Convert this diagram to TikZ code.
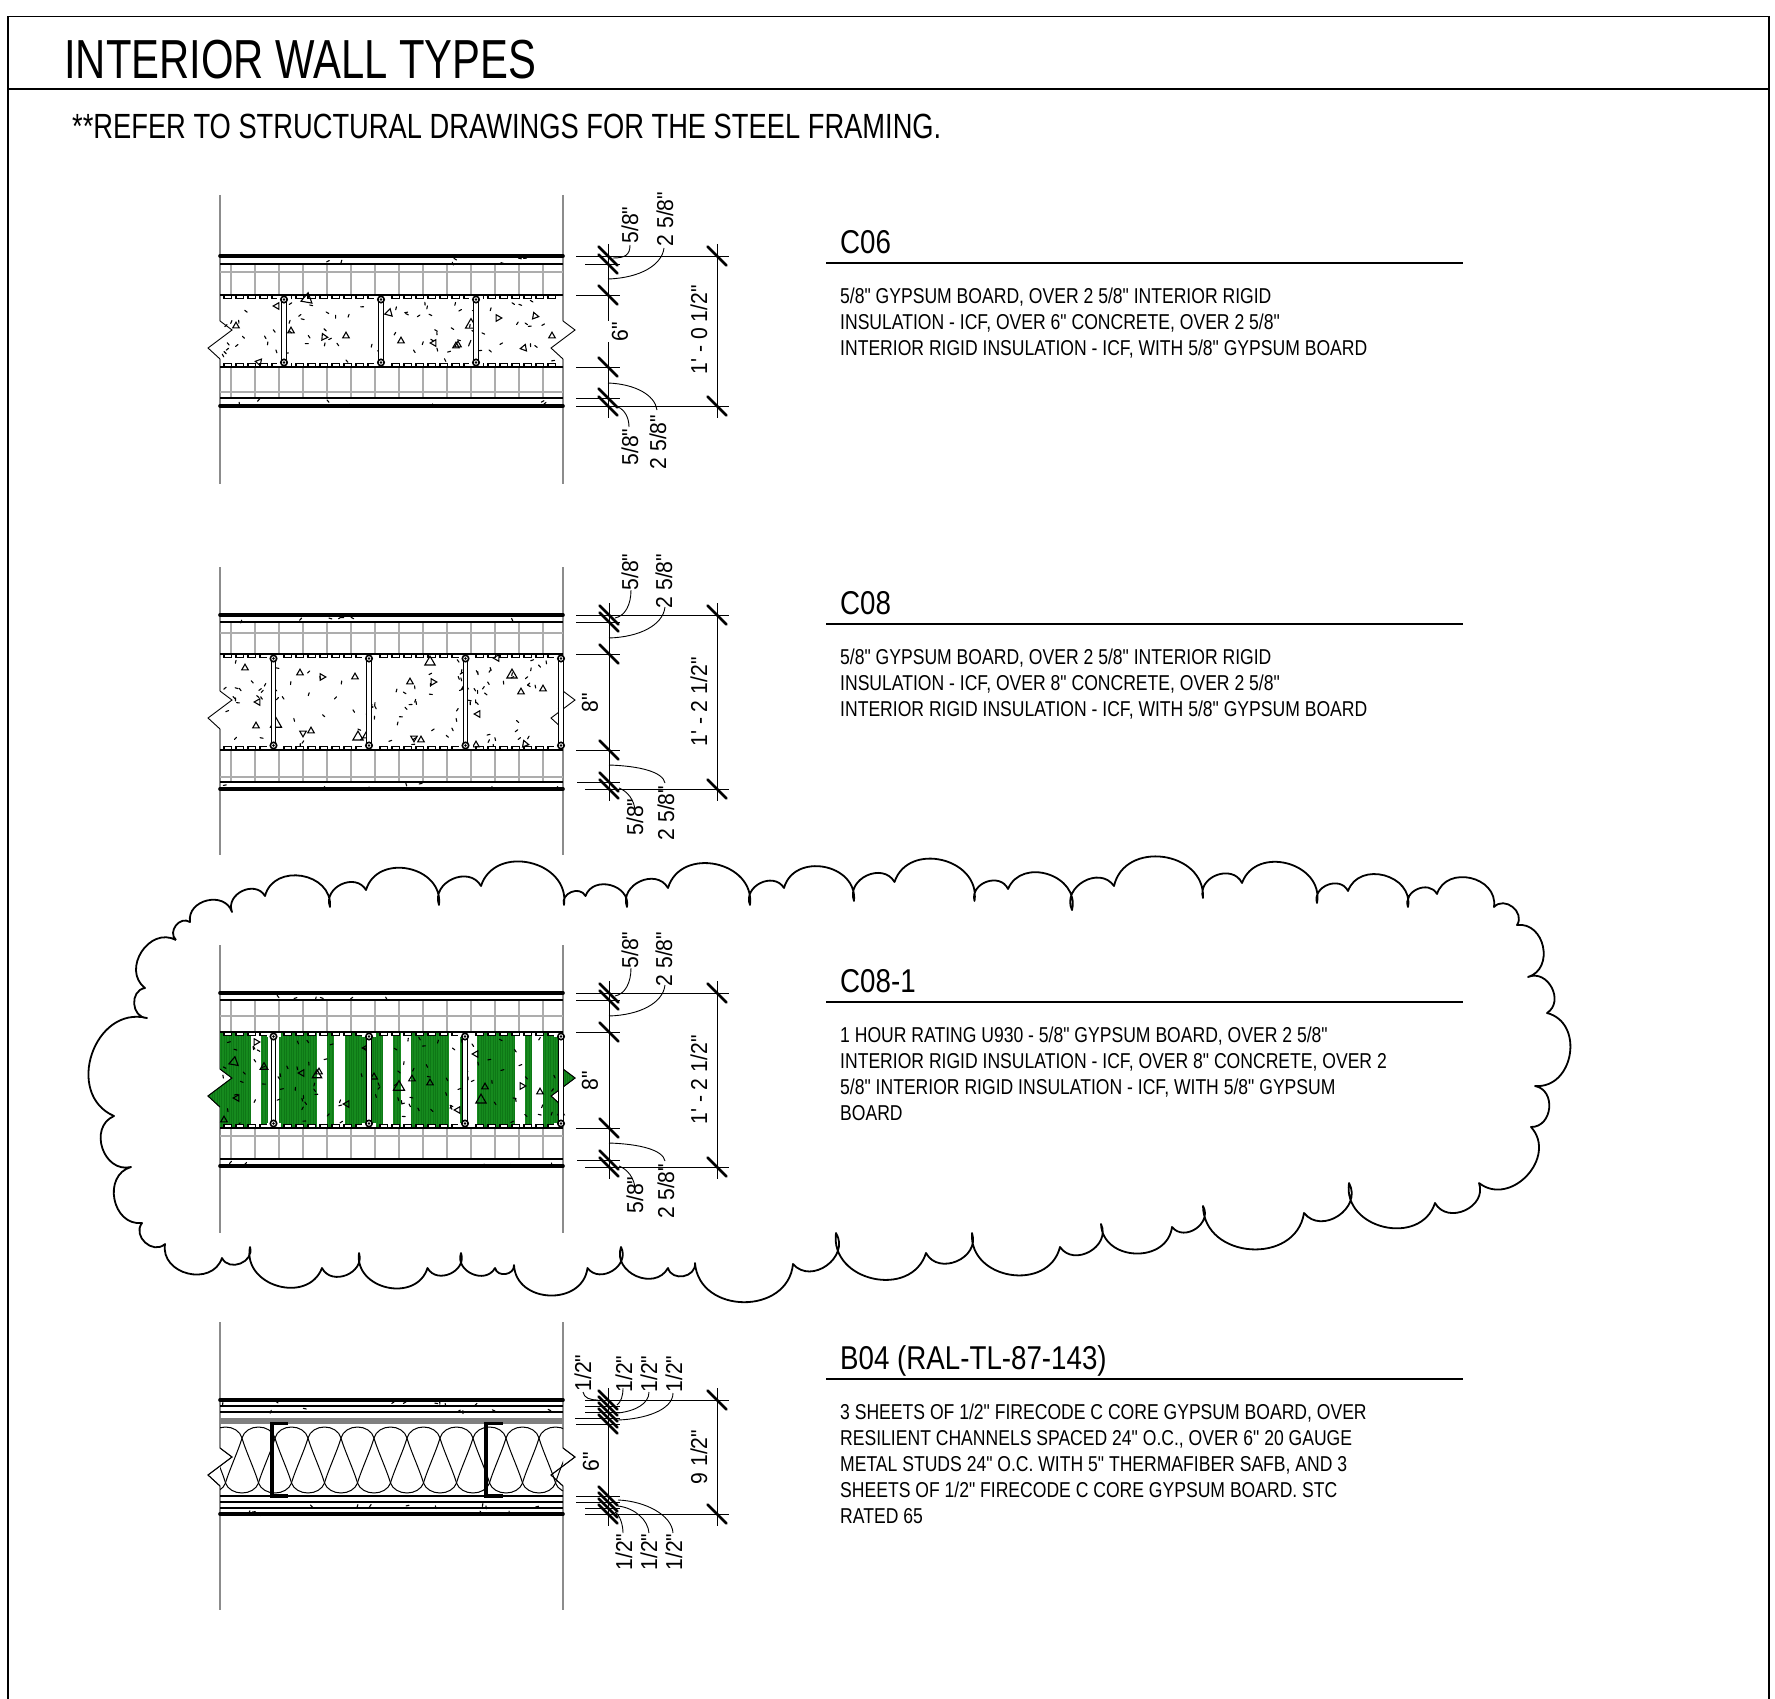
\documentclass[tikz,border=0pt]{standalone}
\usepackage{fontspec}
\setmainfont{Liberation Sans}
\newfontfamily\fTitle[FakeStretch=0.76]{Liberation Sans}
\newfontfamily\fSub[FakeStretch=0.78]{Liberation Sans}
\newfontfamily\fBody[FakeStretch=0.817]{Liberation Sans}
\newfontfamily\fHead[FakeStretch=0.84]{Liberation Sans}
\newfontfamily\fDim[FakeStretch=0.92]{Liberation Sans}
\definecolor{wallgrey}{gray}{0.55}
\definecolor{tickgrey}{gray}{0.68}
\definecolor{rated}{RGB}{22,138,30}
\definecolor{ratedd}{RGB}{14,120,22}
\tikzset{
  wall/.style={draw=wallgrey,line width=1.4pt},
  thickline/.style={line width=3.6pt,line cap=round},
  midline/.style={line width=1.9pt},
  thinline/.style={line width=1.1pt},
  tickline/.style={draw=tickgrey,line width=1.4pt},
  zig/.style={line width=0.9pt},
  boxrow/.style={draw=black,fill=white,line width=1.1pt},
  speck/.style={line width=1.1pt,line cap=round},
  triag/.style={draw=black,line width=1.1pt},
  ext/.style={line width=0.9pt},
  dimline/.style={line width=0.9pt},
  slash/.style={line width=2.6pt,line cap=round},
  leader/.style={line width=0.9pt},
  cloudline/.style={line width=1.8pt,line join=round},
  cl/.style={bend left=85,looseness=1.35},
  dimtext/.style={rotate=90,inner sep=0pt,font=\fDim\fontsize{23}{23}\selectfont},
  headtext/.style={anchor=base west,inner sep=0pt,font=\fHead\fontsize{33}{33}\selectfont},
  bodytext/.style={anchor=base west,inner sep=0pt,font=\fBody\fontsize{21.5}{21.5}\selectfont},
  rule/.style={line width=1.2pt}
}
% wall lines and zigzag break: #1 y top, #2 y bottom, #3 zig mid
\newcommand{\WallBreak}[3]{%
  \draw[wall] (220,#1) -- (220,#3-11) (220,#3+27) -- (220,#2);
  \draw[wall] (563,#1) -- (563,#3-11) (563,#3+27) -- (563,#2);
  \draw[zig] (220,#3-11) -- (232,#3-2) -- (208,#3+16) -- (220,#3+27);
  \draw[zig] (563,#3-11) -- (575,#3-2) -- (551,#3+16) -- (563,#3+27);
}
% composite wall: top,t1,g1,c1,c2,g2,l2,bot
\newcommand{\Skin}[8]{%
  \foreach \k in {0,...,13} \draw[tickline] (231+24*\k,#2) -- (231+24*\k,#4) (231+24*\k,#5) -- (231+24*\k,#7);
  \draw[tickline] (220,#3) -- (563,#3) (220,#6) -- (563,#6);
  \draw[thickline] (220,#1) -- (563,#1);
  \draw[thickline] (220,#8) -- (563,#8);
  \draw[thinline] (220,#2) -- (563,#2) (220,#7) -- (563,#7);
}
\newcommand{\Rows}[2]{%
  \foreach \k in {0,...,27} {
    \draw[boxrow] (224+12*\k,#1) rectangle +(7.5,3.2);
    \draw[boxrow] (224+12*\k,#2) rectangle +(7.5,-3.2);
  }
  \draw[midline] (220,#1) -- (563,#1) (220,#2) -- (563,#2);
}
\newcommand{\Ties}[3]{%
  \foreach \s in {#3} {
    \fill[white] (\s-7,#1+1) rectangle (\s+7,#1+5);
    \fill[white] (\s-7,#2-1) rectangle (\s+7,#2-5);
    \fill[white] (\s-1.8,#1+5) rectangle (\s+1.8,#2-5);
    \draw[line width=1.1pt] (\s-2.2,#1+6) -- (\s-2.2,#2-6);
    \draw[line width=1.1pt] (\s+2.2,#1+6) -- (\s+2.2,#2-6);
    \draw[line width=1.6pt,fill=white] (\s,#1+4.5) circle (3.2);
    \draw[line width=1.6pt,fill=white] (\s,#2-4.5) circle (3.2);
    \fill (\s,#1+4.5) circle (1.4);
    \fill (\s,#2-4.5) circle (1.4);
  }
}
\newcommand{\Specks}[6]{%
  \pgfmathsetseed{#1}
  \foreach \i in {1,...,#6} {
    \pgfmathsetmacro\sx{#2+rnd*(#3-#2)}
    \pgfmathsetmacro\sy{#4+rnd*(#5-#4)}
    \pgfmathsetmacro\sa{rnd*180}
    \draw[speck] (\sx,\sy) -- ++(\sa:3);
  }
}
\newcommand{\Tris}[1]{%
  \foreach \tx/\ty/\ts/\ta in {#1} {
    \draw[triag] (\tx,\ty) ++(270+\ta:\ts+0.4) -- ++(60+\ta:1.73*\ts+0.7) -- ++(180+\ta:1.73*\ts+0.7) -- cycle;
  }
}
\newcommand{\Slashes}[2]{%
  \foreach \sy in {#2} \draw[slash] (#1-9.5,\sy-9.5) -- (#1+9.5,\sy+9.5);
}
\newcommand{\Info}[5]{%
  \node[headtext] (#1) at (840,#2-10) {#3};
  \draw[rule] (826,#2) -- (1463,#2);
  \node[bodytext,align=left] (#1b) at (840,#2+40) {#4};
  \foreach \ly [count=\c] in {#5} \node[bodytext] (#1l\c) at (840,#2+40+26*\c) {\ly};
}
\begin{document}
\begin{tikzpicture}[x=1pt,y=-1pt]
\useasboundingbox (0,0) rectangle (1775,1699);
\fill[white] (0,0) rectangle (1775,1699);
% frame
\draw[line width=1.3pt] (8,1699) -- (8,16.5) -- (1769,16.5) -- (1769,1699);
\draw[line width=1.3pt] (8,89) -- (1769,89);
\node[anchor=base west,inner sep=0pt,font=\fTitle\fontsize{55}{55}\selectfont] (title) at (64,79) {INTERIOR WALL TYPES};
\node[anchor=base west,inner sep=0pt,font=\fSub\fontsize{35}{35}\selectfont] (note) at (72,139) {**REFER TO STRUCTURAL DRAWINGS FOR THE STEEL FRAMING.};

% cloud
\draw[cloudline] (176,940) to[cl] (190,922) to[cl] (232,912) to[cl] (265,896) to[cl] (330,907) to[cl] (366,890) to[cl] (439,905) to[cl] (481,886) to[cl] (564,905) to[cl] (585.5,896) to[cl] (627,907) to[cl] (668,888) to[cl] (750,905) to[cl] (784,888) to[cl] (854,901) to[cl] (894.5,882) to[cl] (974.5,901) to[cl] (1008,889) to[cl] (1072,910) to[cl] (1114,886) to[cl] (1203,898) to[cl] (1242,883) to[cl] (1317,903) to[cl] (1348,891) to[cl] (1408,907) to[cl] (1437,894) to[cl] (1494,907) to[cl] (1517,925) to[cl] (1528,977) to[cl] (1547,1013) to[cl] (1535,1086) to[cl] (1531,1127) to[cl] (1479,1183) to[cl] (1435,1203) to[cl] (1349,1183) to[cl] (1304,1213) to[cl] (1203,1206) to[cl] (1172,1227) to[cl] (1101,1224) to[cl] (1060,1247) to[cl] (972,1233) to[cl] (926,1253) to[cl] (836,1233) to[cl] (793,1264) to[cl] (695,1263) to[cl] (668,1268) to[cl] (621,1247) to[cl] (587.5,1268) to[cl] (514,1265) to[cl] (495,1268) to[cl] (461,1253) to[cl] (427.5,1268) to[cl] (359,1253) to[cl] (322,1268) to[cl] (250,1247) to[cl] (222,1258) to[cl] (165,1244) to[cl] (142,1223) to[cl] (131,1167) to[cl] (114,1116) to[cl] (147,1018) to[cl] (145,988) to[cl] (176,940);

% ---- C06
\WallBreak{195}{484}{332}
\Skin{256}{264}{272}{295}{367}{392}{398}{406}
\Specks{11}{222}{560}{300}{362}{75}
\Specks{12}{222}{560}{258}{263}{7}
\Specks{13}{222}{560}{399}{405}{7}
\Rows{295}{367}
\Tris{236/326/3.4/0,277/306/3.4/30,307/299/6/10,291/331/3.4/0,324/337/3.4/-25,346/336/3.4/0,259/362/3.4/40,389/313/4/15,401/341/3.4/0,434/343/3.4/30,456/346/3.4/0,471/325/6/0,498/318/3.4/90,552/336/3.4/0,458/345/3.4/0,524/348/3.4/20,535/316/3.4/-20}
\Ties{295}{367}{284,381,476}

% ---- C08
\WallBreak{567}{855}{702}
\Skin{615}{622}{633}{654}{750}{777}{782}{789}
\Specks{21}{222}{560}{659}{745}{100}
\Specks{22}{222}{560}{617}{621}{7}
\Specks{23}{222}{560}{783}{788}{7}
\Rows{654}{750}
\Tris{245/668/3.4/0,300/673/3.4/0,322/677/3.4/-30,355/677/3.4/0,410/682/3.4/0,433/682/3.4/-30,430/662/5.5/0,512/675/5.5/0,465/687/3.4/0,521/692/3.4/0,543/689/3.4/0,258/702/3.4/30,478/714/3.4/30,369/707/3.4/90,256/726/3.4/0,276/724/6/0,303/733/3.4/60,311/731/3.4/0,358/737/5.5/0,366/736/3.4/0,414/738/3.4/60,421/740/3.4/0,476/745/3.4/0,465/745/3.4/0,525/744/3.4/-20,497/658/3.4/30}
\Ties{654}{750}{273.5,369,465.5,561}

% ---- C08-1
\WallBreak{945}{1233}{1080}
\begin{scope}
  \clip (220,1032) -- (220,1069) -- (232,1078) -- (208,1096) -- (220,1107) -- (220,1128) -- (563,1128) -- (563,1107) -- (551,1096) -- (575,1078) -- (563,1069) -- (563,1032) -- cycle;
  \fill[rated] (200,1032) rectangle (580,1128);
  \foreach \k in {0,...,156} \draw[ratedd,line width=0.6pt] (200+2.4*\k,1032) -- (200+2.4*\k,1128);
  \foreach \a/\b in {250.7/261.3,268.3/279.3,316.7/327,334.3/345,382.7/393.3,401/411.3,448.7/460,468.3/477.3,515/525.3,532.3/543.3}
    \fill[white] (\a,1032) rectangle (\b,1128);
\end{scope}
\draw[zig] (220,1069) -- (232,1078) -- (208,1096) -- (220,1107);
\draw[zig] (563,1069) -- (575,1078) -- (551,1096) -- (563,1107);
\Skin{993}{1000}{1016}{1032}{1128}{1136}{1159}{1166}
\Specks{31}{222}{560}{1037}{1123}{100}
\Specks{32}{222}{560}{995}{999}{6}
\Specks{33}{222}{560}{1160}{1165}{6}
\Rows{1032}{1128}
\Tris{234/1062/5/10,256/1042/3.4/-30,264/1067/4/0,237/1098/3.4/30,302/1073/3.4/30,317/1075/5/0,319/1072/3.4/0,366/1048/3.4/30,374/1077/3.6/0,347/1104/3.4/30,399/1087/6/0,412/1079/3.4/0,430/1083/3.4/0,458/1110/3.4/30,476/1054/3.4/30,485/1087/3.4/0,481/1100/5.5/0,522/1086/3.4/-30,540/1092/3.4/0,224/1120/3.4/0,561/1113/3.4/0}
\Ties{1032}{1128}{273.5,369,465,561}

% ---- B04
\WallBreak{1322}{1610}{1459}
\fill[gray] (220,1418) rectangle (563,1424);
\begin{scope}
  \clip (220,1424) rectangle (563,1496);
  \foreach \k in {-5,...,10} {
    \pgfmathsetmacro\bx{242+33*\k}
    \draw[line width=1pt] (\bx,1438) .. controls (\bx+2,1431) and (\bx+9,1427) .. (\bx+16.5,1427)
      .. controls (\bx+24,1427) and (\bx+31,1431) .. (\bx+33,1438)
      .. controls (\bx+36,1449) and (\bx+46.5,1472) .. (\bx+49.5,1483)
      .. controls (\bx+51.5,1489) and (\bx+58.5,1493) .. (\bx+66,1493)
      .. controls (\bx+73.5,1493) and (\bx+80.5,1489) .. (\bx+82.5,1483)
      .. controls (\bx+85.5,1472) and (\bx+96,1449) .. (\bx+99,1438);
  }
\end{scope}
\draw[zig] (220,1448) -- (232,1457) -- (208,1475) -- (220,1486);
\draw[zig] (563,1448) -- (575,1457) -- (551,1475) -- (563,1486);
\draw[thickline] (220,1400) -- (563,1400) (220,1514) -- (563,1514);
\draw[midline] (220,1406) -- (563,1406) (220,1412) -- (563,1412) (220,1496) -- (563,1496) (220,1502) -- (563,1502) (220,1508) -- (563,1508);
\Specks{41}{222}{560}{1401}{1405}{8}
\Specks{42}{222}{560}{1407}{1411}{6}
\Specks{43}{222}{560}{1503}{1507}{8}
\Specks{44}{222}{560}{1509}{1513}{6}
\draw[line width=3.2pt] (288,1423.5) -- (272,1423.5) -- (272,1496) -- (288,1496);
\draw[line width=3.2pt] (503,1423.5) -- (486,1423.5) -- (486,1496) -- (503,1496);

% ---- dimensions C06
\draw[ext] (576,256) -- (729,256) (585,264) -- (620,264) (576,295) -- (620,295) (576,367) -- (620,367) (576,398) -- (620,398) (576,406) -- (729,406);
\draw[dimline] (608,244) -- (608,321) (608,342) -- (608,418);
\draw[dimline] (717,244) -- (717,418);
\Slashes{608}{256,264,295,367,398,406}
\Slashes{717}{256,406}
\draw[leader] (613,258) .. controls (625,258) and (630,255) .. (630,245);
\draw[leader] (608,279) .. controls (640,278) and (662,265) .. (664,248);
\draw[leader] (608,383) .. controls (635,384) and (655,395) .. (657,410);
\draw[leader] (618,407) .. controls (625,410) and (629,418) .. (629,427);
\node[dimtext] (a1) at (630,225) {5/8"};
\node[dimtext] (a2) at (665,219) {2 5/8"};
\node[dimtext] (a3) at (630,447) {5/8"};
\node[dimtext] (a4) at (658,442) {2 5/8"};
\node[dimtext] (a5) at (699,330) {1' - 0 1/2"};
\node[dimtext] (a6) at (620,332) {6"};

% ---- dimensions C08 and C08-1
\foreach \dy/\nm in {0/b,378/c} {
  \begin{scope}[yshift=-\dy pt]
  \draw[ext] (576,615) -- (729,615) (576,622) -- (620,622) (576,654) -- (620,654) (576,750) -- (620,750) (577,782) -- (620,782) (585,789) -- (729,789);
  \draw[dimline] (609,603) -- (609,801);
  \draw[dimline] (717,603) -- (717,801);
  \Slashes{609}{615,622,654,750,782,789}
  \Slashes{717}{615,789}
  \draw[leader] (615,618) .. controls (625,616) and (631,605) .. (631,590);
  \draw[leader] (609,638) .. controls (640,637) and (663,625) .. (665,607);
  \draw[leader] (609,765) .. controls (640,766) and (663,772) .. (665,783);
  \draw[leader] (619,788) .. controls (627,791) and (635,800) .. (635,812);
  \node[dimtext] (\nm1) at (630,572) {5/8"};
  \node[dimtext] (\nm2) at (664,581) {2 5/8"};
  \node[dimtext] (\nm3) at (635,817) {5/8"};
  \node[dimtext] (\nm4) at (666,813) {2 5/8"};
  \node[dimtext] (\nm5) at (699,702) {1' - 2 1/2"};
  \node[dimtext] (\nm6) at (590,703) {8"};
  \end{scope}
}

% ---- dimensions B04
\draw[ext] (585,1400) -- (729,1400) (585,1406) -- (620,1406) (585,1412) -- (620,1412) (575,1418) -- (620,1418) (576,1424) -- (620,1424) (576,1496) -- (620,1496) (576,1502) -- (620,1502) (585,1508) -- (620,1508) (585,1514) -- (729,1514);
\draw[dimline] (608,1388) -- (608,1526);
\draw[dimline] (717,1388) -- (717,1526);
\Slashes{608}{1400,1406,1412,1418,1424,1496,1502,1508,1514}
\Slashes{717}{1400,1514}
\draw[leader] (598,1400) .. controls (590,1400) and (584,1398) .. (583,1392);
\draw[leader] (617,1405) .. controls (621,1402) and (623,1396) .. (623,1388);
\draw[leader] (618,1413) .. controls (635,1411) and (649,1404) .. (649,1392);
\draw[leader] (618,1420) .. controls (645,1419) and (673,1410) .. (673,1393);
\draw[leader] (618,1500) .. controls (645,1501) and (672,1515) .. (673,1533);
\draw[leader] (618,1506) .. controls (635,1508) and (648,1520) .. (649,1533);
\draw[leader] (615,1512) .. controls (620,1515) and (623,1525) .. (623,1533);
\node[dimtext] (d1) at (583,1373) {1/2"};
\node[dimtext] (d2) at (624,1374) {1/2"};
\node[dimtext] (d3) at (649,1374) {1/2"};
\node[dimtext] (d4) at (674,1374) {1/2"};
\node[dimtext] (d5) at (624,1552) {1/2"};
\node[dimtext] (d6) at (649,1552) {1/2"};
\node[dimtext] (d7) at (674,1552) {1/2"};
\node[dimtext] (d8) at (699,1457) {9 1/2"};
\node[dimtext] (d9) at (591,1462) {6"};

% ---- legends
\Info{ia}{263}{C06}{5/8" GYPSUM BOARD, OVER 2 5/8" INTERIOR RIGID}{{INSULATION - ICF, OVER 6" CONCRETE, OVER 2 5/8"},{INTERIOR RIGID INSULATION - ICF, WITH 5/8" GYPSUM BOARD}}
\Info{ib}{624}{C08}{5/8" GYPSUM BOARD, OVER 2 5/8" INTERIOR RIGID}{{INSULATION - ICF, OVER 8" CONCRETE, OVER 2 5/8"},{INTERIOR RIGID INSULATION - ICF, WITH 5/8" GYPSUM BOARD}}
\Info{ic}{1002}{C08-1}{1 HOUR RATING U930 - 5/8" GYPSUM BOARD, OVER 2 5/8"}{{INTERIOR RIGID INSULATION - ICF, OVER 8" CONCRETE, OVER 2},{5/8" INTERIOR RIGID INSULATION - ICF, WITH 5/8" GYPSUM},{BOARD}}
\Info{id}{1379}{B04 (RAL-TL-87-143)}{3 SHEETS OF 1/2" FIRECODE C CORE GYPSUM BOARD, OVER}{{RESILIENT CHANNELS SPACED 24" O.C., OVER 6" 20 GAUGE},{METAL STUDS 24" O.C. WITH 5" THERMAFIBER SAFB, AND 3},{SHEETS OF 1/2" FIRECODE C CORE GYPSUM BOARD. STC},{RATED 65}}
\end{tikzpicture}
\end{document}
